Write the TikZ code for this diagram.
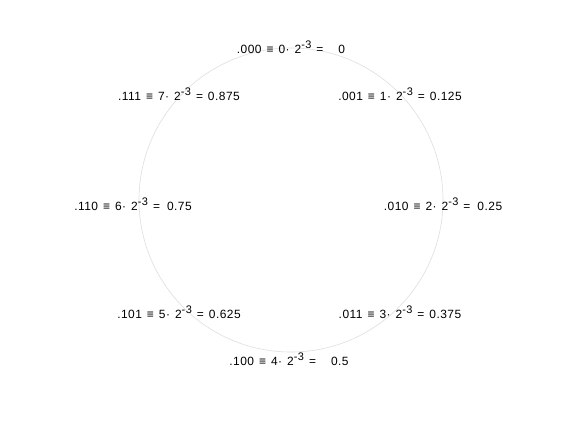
\documentclass[tikz,border=0pt]{standalone}
\usepackage{fontspec}
\setmainfont[LetterSpace=4]{Liberation Sans}
\newcommand{\pw}{2\raisebox{0.42em}{\fontsize{11}{11}\selectfont -3}}
\newcommand{\labfont}{\fontsize{12}{14}\selectfont\spaceskip=5bp plus 1bp\relax}
\tikzset{lab/.style={inner sep=0pt, font=\labfont}}
\begin{document}
\begin{tikzpicture}[x=1bp,y=-1bp]
\useasboundingbox (0,0) rectangle (561,420);
\fill[white] (0,0) rectangle (561,420);
\draw[gray!25, line width=0.6bp] (291,200) circle (152);
\node[lab] (n0) at (291,47) {.000 ≡ 0· \pw{} = \ \ 0};
\node[lab] (n1) at (400,94) {.001 ≡ 1· \pw{} = 0.125};
\node[lab] (n2) at (443,204) {.010 ≡ 2· \pw{} = \hspace{2bp}0.25};
\node[lab] (n3) at (400,312) {.011 ≡ 3· \pw{} = 0.375};
\node[lab] (n4) at (289,359) {.100 ≡ 4· \pw{} = \ \ 0.5};
\node[lab] (n5) at (179,312) {.101 ≡ 5· \pw{} = 0.625};
\node[lab] (n6) at (133,204) {.110 ≡ 6· \pw{} = \hspace{2bp}0.75};
\node[lab] (n7) at (179,94) {.111 ≡ 7· \pw{} = 0.875};
\end{tikzpicture}
\end{document}
